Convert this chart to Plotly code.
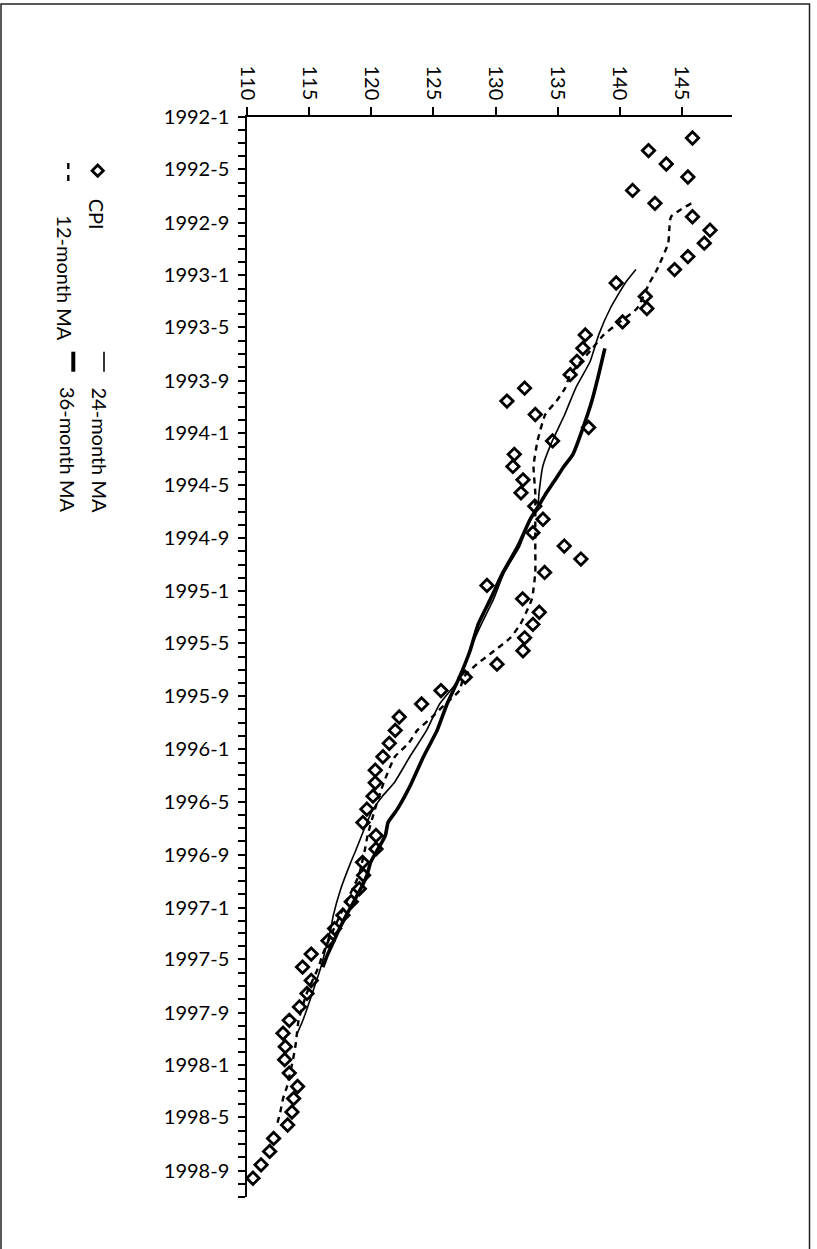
import pandas as pd
import plotly.graph_objects as go

# ---------------- data ----------------
cpi_months = [f"{1992 + (m // 12)}-{m % 12 + 1}" for m in range(1, 81)]  # 1992-2 .. 1998-9
cpi_values = [
    145.85, 142.31, 143.74, 145.48, 141.03, 142.83, 145.85, 147.26, 146.80, 145.48,
    144.41, 139.71, 142.05, 142.18, 140.22, 137.22, 137.03, 136.55, 136.01, 132.34,
    130.92, 133.20, 137.49, 134.59, 131.51, 131.40, 132.21, 132.05, 133.16, 133.82,
    133.01, 135.53, 136.87, 133.95, 129.31, 132.18, 133.52, 133.01, 132.34, 132.21,
    130.12, 127.56, 125.61, 124.05, 122.25, 121.93, 121.45, 120.94, 120.32, 120.32,
    120.14, 119.65, 119.33, 120.38, 120.38, 119.30, 119.38, 119.04, 118.39, 117.72,
    117.05, 116.52, 115.17, 114.47, 115.17, 114.83, 114.22, 113.40, 112.90, 113.08,
    113.03, 113.40, 114.07, 113.75, 113.62, 113.27, 112.14, 111.82, 111.13, 110.48,
]

ma12_months = ["1992-7", "1992-8", "1992-9", "1992-10", "1992-12", "1993-1", "1993-3", "1993-4",
               "1993-5", "1993-6", "1993-7", "1993-8", "1993-9", "1993-10", "1993-11", "1994-1",
               "1994-3", "1994-5", "1994-7", "1994-9", "1994-11", "1995-1", "1995-2", "1995-3",
               "1995-4", "1995-5", "1995-6", "1995-7", "1995-8", "1995-9", "1995-10", "1995-11",
               "1995-12", "1996-1", "1996-3", "1996-5", "1996-7", "1996-8", "1996-10", "1996-12",
               "1997-2", "1997-4", "1997-5", "1997-7", "1997-9", "1997-10", "1997-11", "1997-12",
               "1998-2", "1998-3", "1998-4", "1998-5"]
ma12_values = [145.75, 144.12, 143.98, 143.90, 142.99, 142.39, 141.38, 140.00,
               138.70, 137.80, 136.90, 136.00, 135.60, 134.90, 134.00, 133.38,
               133.06, 133.20, 133.20, 133.20, 133.20, 132.93, 132.47, 131.99,
               131.19, 129.90, 128.50, 127.43, 127.10, 125.96, 124.90, 123.70,
               123.00, 121.90, 121.00, 120.30, 119.70, 119.50, 119.00, 118.00,
               117.00, 116.10, 115.76, 114.80, 114.15, 114.02, 113.89, 113.70,
               113.22, 112.90, 112.68, 112.41]

ma24_months = ["1992-12", "1993-1", "1993-3", "1993-5", "1993-7", "1993-9", "1993-11", "1994-1",
               "1994-3", "1994-5", "1994-6", "1994-7", "1994-9", "1994-11", "1995-1", "1995-3",
               "1995-5", "1995-7", "1995-9", "1995-11", "1996-1", "1996-3", "1996-4", "1996-5",
               "1996-6", "1996-8", "1996-9", "1996-11", "1997-1", "1997-2", "1997-3", "1997-5",
               "1997-7", "1997-9", "1997-10"]
ma24_values = [141.30, 140.44, 139.23, 138.30, 137.62, 136.45, 135.57, 134.57,
               133.80, 133.50, 133.40, 132.75, 131.95, 130.70, 129.85, 128.85,
               127.90, 127.20, 125.50, 124.45, 123.10, 121.85, 120.90, 120.15,
               119.65, 118.80, 118.35, 117.55, 116.95, 116.75, 116.50, 115.95,
               115.25, 114.50, 114.05]

ma36_months = ["1993-6", "1993-8", "1993-10", "1993-12", "1994-2", "1994-3", "1994-4", "1994-5",
               "1994-6", "1994-7", "1994-9", "1994-11", "1995-1", "1995-3", "1995-5", "1995-7",
               "1995-9", "1995-11", "1996-1", "1996-3", "1996-4", "1996-5", "1996-6", "1996-7",
               "1996-9", "1996-10", "1996-11", "1997-1", "1997-2", "1997-3", "1997-4", "1997-5"]
ma36_values = [138.80, 138.30, 137.75, 137.05, 136.23, 135.50, 134.80, 134.10,
               133.45, 132.80, 131.80, 130.60, 129.60, 128.60, 127.95, 127.10,
               126.10, 125.30, 124.20, 123.25, 122.70, 122.10, 121.35, 121.13,
               119.95, 119.65, 119.15, 118.00, 117.45, 117.00, 116.50, 116.10]

value_ticks = [110, 115, 120, 125, 130, 135, 140, 145]

# ---------------- helpers ----------------
FONT = "Lato"
W, H = 817, 1249
L, R, T, B = 247, 85, 117, 52


def centre(months):
    # each month is a category centred inside its monthly interval
    return [pd.Timestamp(m + "-01") + pd.Timedelta(days=17.6) for m in months]


def px(x):
    return (x - L) / (W - L - R)


def py(y):
    return (H - B - y) / (H - T - B)


fig = go.Figure()
fig.add_trace(go.Scatter(x=ma36_values, y=centre(ma36_months), mode="lines",
                         line=dict(color="black", width=3.6, shape="spline", smoothing=0.5),
                         name="36-month MA"))
fig.add_trace(go.Scatter(x=ma24_values, y=centre(ma24_months), mode="lines",
                         line=dict(color="black", width=1.6, shape="spline", smoothing=0.5),
                         name="24-month MA"))
fig.add_trace(go.Scatter(x=ma12_values, y=centre(ma12_months), mode="lines",
                         line=dict(color="black", width=2.4, dash="6px,5px", shape="spline", smoothing=0.5),
                         name="12-month MA"))
fig.add_trace(go.Scatter(x=cpi_values, y=centre(cpi_months), mode="markers",
                         marker=dict(symbol="diamond-open", size=9.5, color="black",
                                     line=dict(width=2.8, color="black")),
                         name="CPI"))

fig.update_layout(
    width=W, height=H, autosize=False,
    margin=dict(l=L, r=R, t=T, b=B),
    paper_bgcolor="white", plot_bgcolor="white",
    showlegend=False,
    font=dict(family=FONT, size=20, color="black"),
    xaxis=dict(side="top", range=[110, 149.03], tickvals=value_ticks,
               ticktext=[str(v) for v in value_ticks], tickangle=90,
               ticks="outside", ticklen=8, tickwidth=1.5, tickcolor="black",
               showline=True, linecolor="black", linewidth=1.5,
               showgrid=False, zeroline=False, tickfont=dict(family=FONT, size=20)),
    yaxis=dict(type="date", range=["1998-11-01", "1992-01-01"],
               tick0="1992-01-01", dtick="M4", tickformat="%Y-%-m",
               ticks="outside", ticklen=7, tickwidth=1.5, tickcolor="black",
               ticklabelstandoff=5,
               minor=dict(dtick="M1", ticks="outside", ticklen=7, tickwidth=1.5, tickcolor="black"),
               showline=True, linecolor="black", linewidth=1.5,
               showgrid=False, zeroline=False, tickfont=dict(family=FONT, size=20)),
)

shapes = []
# outer frame
shapes.append(dict(type="rect", xref="paper", yref="paper",
                   x0=px(1), x1=px(809.5), y0=py(1265), y1=py(4),
                   line=dict(color="#222", width=1.5), fillcolor="rgba(0,0,0,0)"))
# legend symbols
d = 5.6
cx, cy = 97.7, 170.7
shapes.append(dict(type="path", xref="paper", yref="paper",
                   path=f"M {px(cx)},{py(cy - d)} L {px(cx + d)},{py(cy)} L {px(cx)},{py(cy + d)} L {px(cx - d)},{py(cy)} Z",
                   line=dict(color="black", width=2.8)))
shapes.append(dict(type="line", xref="paper", yref="paper", x0=px(68.3), x1=px(68.3),
                   y0=py(163), y1=py(183), line=dict(color="black", width=2.4, dash="6px,6px")))
shapes.append(dict(type="line", xref="paper", yref="paper", x0=px(104), x1=px(104),
                   y0=py(351.7), y1=py(371.7), line=dict(color="black", width=1.6)))
shapes.append(dict(type="line", xref="paper", yref="paper", x0=px(73.3), x1=px(73.3),
                   y0=py(351.7), y1=py(371.7), line=dict(color="black", width=4)))
fig.update_layout(shapes=shapes)

legend_items = [("CPI", 96.5, 196.7), ("12-month MA", 65.5, 213.3),
                ("24-month MA", 99, 385), ("36-month MA", 67.5, 385)]
for text, x, y in legend_items:
    fig.add_annotation(text=text, xref="paper", yref="paper", x=px(x), y=py(y),
                       xanchor="center", yanchor="top", textangle=90, showarrow=False,
                       font=dict(family=FONT, size=20, color="black"))

fig.write_html("out.html", config={"displayModeBar": False},
               post_script="document.body.style.margin='0';")
